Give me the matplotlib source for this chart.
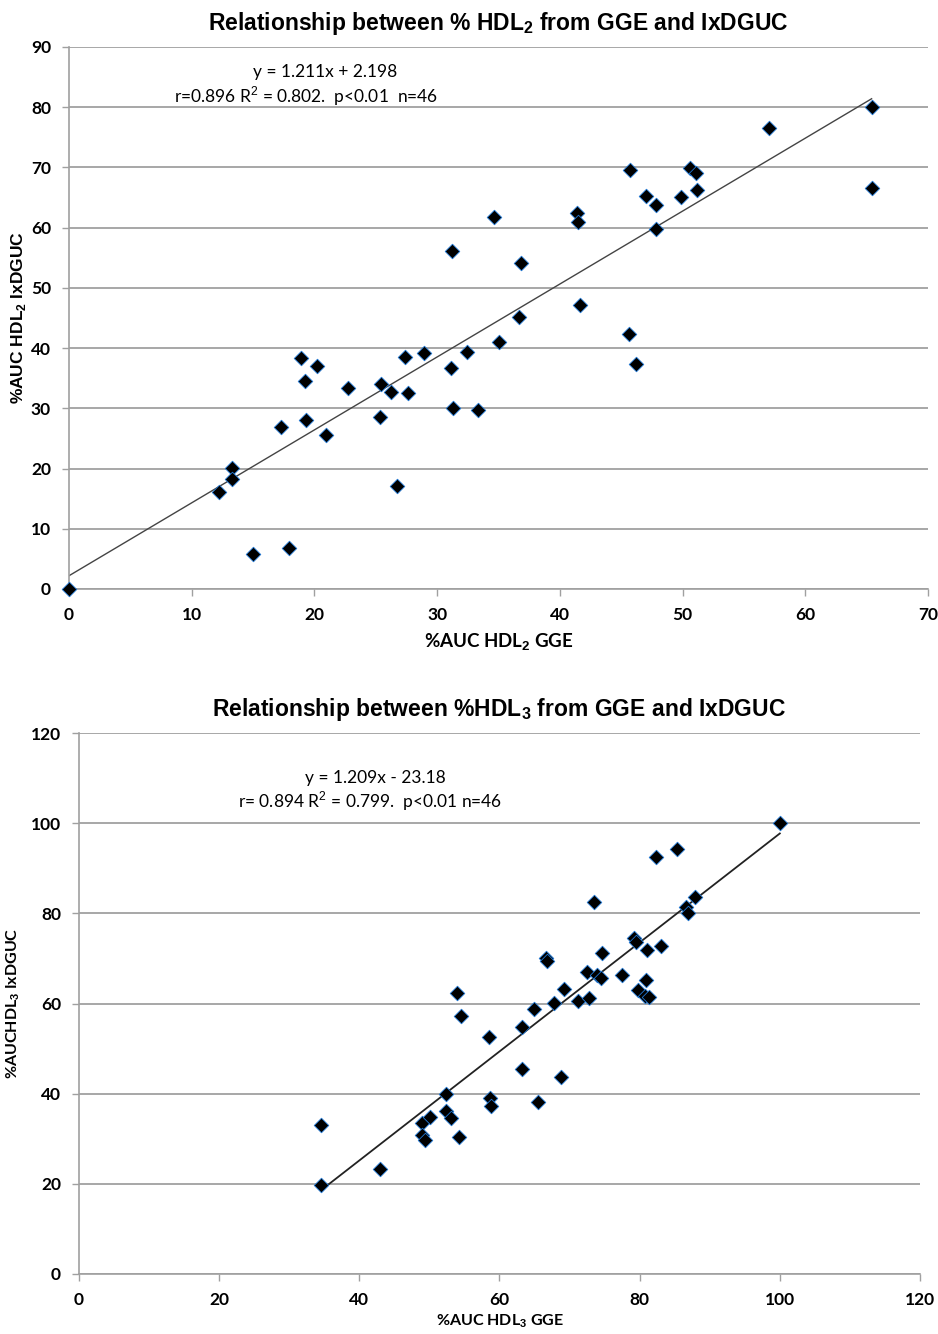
import numpy as np
import matplotlib.pyplot as plt

plt.rcParams['mathtext.fontset'] = 'custom'
plt.rcParams['mathtext.rm'] = 'Liberation Sans'
plt.rcParams['mathtext.bf'] = 'Liberation Sans:bold'

# HDL2 data (%AUC GGE vs %AUC IxDGUC)
hdl2_gge = [0.0, 12.2, 13.3, 13.3, 15.0, 17.9, 17.3, 18.9, 19.2, 19.3, 20.2, 20.9,
            22.7, 25.4, 25.3, 26.2, 26.7, 27.4, 27.6, 28.9, 31.1, 31.3, 31.2, 32.4,
            33.3, 34.6, 35.0, 36.7, 36.8, 41.4, 41.5, 41.6, 45.6, 45.7, 46.2, 47.0,
            47.8, 47.8, 49.9, 50.6, 51.1, 51.2, 57.0, 65.4, 65.4]
hdl2_ixd = [0.0, 16.1, 20.1, 18.3, 5.8, 6.8, 26.9, 38.4, 34.6, 28.1, 37.0, 25.6,
            33.4, 34.1, 28.6, 32.7, 17.1, 38.5, 32.6, 39.2, 36.7, 30.1, 56.1, 39.4,
            29.7, 61.8, 41.0, 45.2, 54.2, 62.5, 61.0, 47.2, 42.4, 69.6, 37.4, 65.3,
            63.8, 59.8, 65.1, 69.9, 69.1, 66.3, 76.6, 80.1, 66.6]

# HDL3 data
hdl3_gge = [34.5, 34.5, 42.9, 48.9, 48.9, 49.4, 50.1, 52.4, 52.4, 53.1, 53.9, 54.5,
            54.2, 58.5, 58.6, 58.8, 63.2, 63.2, 64.9, 65.5, 66.6, 66.8, 67.8, 68.8,
            69.2, 71.2, 72.5, 72.8, 73.5, 73.9, 74.5, 74.6, 77.5, 79.2, 79.5, 79.7,
            80.7, 80.9, 81.0, 81.3, 82.3, 83.0, 85.3, 86.6, 86.9, 87.9, 100.0]
hdl3_ixd = [19.7, 33.1, 23.3, 33.5, 30.8, 29.7, 34.8, 39.9, 36.2, 34.6, 62.3, 57.2,
            30.4, 52.6, 39.0, 37.3, 45.5, 54.8, 58.8, 38.2, 70.1, 69.4, 60.1, 43.7,
            63.2, 60.6, 67.0, 61.2, 82.5, 66.3, 65.7, 71.2, 66.3, 74.5, 73.6, 63.0,
            61.7, 65.2, 71.9, 61.4, 92.5, 72.8, 94.3, 81.4, 80.1, 83.6, 100.0]

fit2 = (1.211, 2.198)
fit3 = (1.209, -23.18)

fig = plt.figure(figsize=(9.38, 13.34), dpi=100)
ax1 = fig.add_axes([0.0736, 0.5585, 0.9158, 0.4063])
ax2 = fig.add_axes([0.0842, 0.0450, 0.8966, 0.4055])


def style(ax, xmax, xstep, ymax, ystep):
    ax.set_xlim(0, xmax)
    ax.set_ylim(0, ymax)
    ax.set_xticks(np.arange(0, xmax + 1, xstep))
    ax.set_yticks(np.arange(0, ymax + 1, ystep))
    for s in ['top', 'right']:
        ax.spines[s].set_visible(False)
    for s in ['left', 'bottom']:
        ax.spines[s].set_color('#a0a0a0')
        ax.spines[s].set_linewidth(1.2)
    ax.yaxis.grid(True, color='#a0a0a0', linewidth=1.3)
    ax.set_axisbelow(True)
    ax.tick_params(axis='both', color='#a0a0a0', length=5, width=1.0, pad=8)
    for lab in ax.get_xticklabels() + ax.get_yticklabels():
        lab.set_fontfamily('Lato')
        lab.set_fontweight('bold')
        lab.set_fontsize(12.5)


# top chart
style(ax1, 70, 10, 90, 10)
ax1.scatter(hdl2_gge, hdl2_ixd, marker='D', s=55, c='black', edgecolors='#1f77d4',
            linewidths=0.6, zorder=3, clip_on=False)
xl = np.array([0, max(hdl2_gge)])
ax1.plot(xl, fit2[0] * xl + fit2[1], color='#444444', linewidth=1.0, zorder=2)
ax1.set_title(r'Relationship between % HDL$_\mathbf{2}$ from GGE and IxDGUC',
              family='Liberation Sans', weight='bold', fontsize=16.5, pad=12)
ax1.set_xlabel(r'%AUC HDL$_\mathbf{2}$ GGE', family='Lato', weight='bold', fontsize=13.5, labelpad=6)
ax1.set_ylabel(r'%AUC HDL$_\mathbf{2}$ IxDGUC', family='Liberation Sans', weight='bold',
               fontsize=12.5, labelpad=2)
ax1.text(20.9, 85.8, 'y = 1.211x + 2.198', family='Lato', fontsize=12.5,
         ha='center', va='center')
ax1.text(19.3, 81.8, r'r=0.896 R$^\mathrm{2}$ = 0.802.  p<0.01  n=46', family='Lato', fontsize=12.5,
         ha='center', va='center')

# bottom chart
style(ax2, 120, 20, 120, 20)
ax2.scatter(hdl3_gge, hdl3_ixd, marker='D', s=55, c='black', edgecolors='#1f77d4',
            linewidths=0.6, zorder=3, clip_on=False)
xl = np.array([min(hdl3_gge), max(hdl3_gge)])
ax2.plot(xl, fit3[0] * xl + fit3[1], color='#222222', linewidth=1.3, zorder=2)
ax2.set_title(r'Relationship between %HDL$_\mathbf{3}$ from GGE and IxDGUC',
              family='Liberation Sans', weight='bold', fontsize=16.5, pad=12)
ax2.set_xlabel(r'%AUC HDL$_\mathbf{3}$ GGE', family='Lato', weight='bold', fontsize=11.5, labelpad=3)
ax2.set_ylabel(r'%AUCHDL$_\mathbf{3}$ IxDGUC', family='Lato', weight='bold', fontsize=11.5, labelpad=6)
ax2.text(42.3, 110.0, 'y = 1.209x - 23.18', family='Lato', fontsize=12.5,
         ha='center', va='center')
ax2.text(41.5, 104.8, r'r= 0.894 R$^\mathrm{2}$ = 0.799.  p<0.01 n=46', family='Lato', fontsize=12.5,
         ha='center', va='center')

fig.savefig('out.png', dpi=100)
